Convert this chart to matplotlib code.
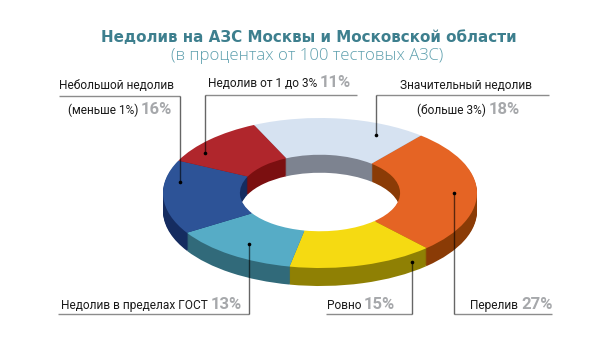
import matplotlib
matplotlib.use("Agg")
import matplotlib.pyplot as plt

W, H = 610, 351

# clockwise from the upper right
names = ["Перелив", "Ровно", "Недолив в пределах ГОСТ", "(меньше 1%)", "Недолив от 1 до 3%", "(больше 3%)"]
values = [27, 15, 13, 16, 11, 18]
top_colors = ["#e56424", "#f5da12", "#56acc6", "#2d5397", "#b0262c", "#d6e2f1"]
side_colors = ["#8a3b06", "#8f8004", "#316a7a", "#152c60", "#7b0f10", "#7d8390"]

# ring geometry in pixels
cx, cy, rx, ry, depth = 320, 193, 157, 75, 18
ring_width = 0.49

plt.rcParams['font.family'] = ['Roboto', 'DejaVu Sans']
fig = plt.figure(figsize=(W / 100, H / 100), dpi=100)

# donut axes: its shape gives the squashed look
pad = 4
left, right = cx - rx - pad, cx + rx + pad
top, bottom = cy - ry - pad, cy + ry + depth + pad
ax = fig.add_axes([left / W, 1 - bottom / H, (right - left) / W, (bottom - top) / H])
for d in range(depth, 0, -1):
    ax.pie(values, colors=side_colors, startangle=50, counterclock=False,
           center=(0, -d / ry), radius=1, wedgeprops=dict(width=ring_width, linewidth=0))
ax.pie(values, colors=top_colors, startangle=50, counterclock=False,
       center=(0, 0), radius=1, wedgeprops=dict(width=ring_width, linewidth=0))
ax.set_aspect('auto')
ax.set_xlim(-1 - pad / rx, 1 + pad / rx)
ax.set_ylim(-1 - (depth + pad) / ry, 1 + pad / ry)

# overlay in pixel coordinates for text and leader lines
ov = fig.add_axes([0, 0, 1, 1])
ov.set_xlim(0, W)
ov.set_ylim(H, 0)
ov.axis('off')

ov.text(308.5, 41.5, "Недолив на АЗС Москвы и Московской области", family='DejaVu Sans', weight='bold',
        fontsize=10.9, color='#3d7f8e', ha='center', va='baseline')
ov.text(307.5, 60, "(в процентах от 100 тестовых АЗС)", family='Open Sans', weight='light',
        fontsize=12.1, color='#5ea0ae', ha='center', va='baseline')


def leader(x0, x1, y, dot_x, dot_y):
    ov.plot([x0, x1], [y, y], color='#000000', alpha=0.45, lw=1, solid_capstyle='butt')
    ov.plot([dot_x, dot_x], [y, dot_y], color='#000000', alpha=0.6, lw=1, solid_capstyle='butt')
    ov.plot([dot_x], [dot_y], 'o', color='black', ms=2.6, mew=0)


def label(text, pct, x, y):
    ov.text(x, y, text, fontsize=8.6, color='#1a1a1a', ha='right', va='baseline')
    ov.text(x + 3, y, f"{pct}%", fontsize=12, weight='bold', color='#a6a8ab', ha='left', va='baseline')


leader(59, 180, 96, 180, 182)
leader(205, 357, 95, 205, 153)
leader(376, 549, 95, 376, 135)
leader(58, 249, 314, 249, 244)
leader(326, 412, 314, 412, 262)
leader(454, 552, 314, 454, 193)

ov.text(59, 89, "Небольшой недолив", fontsize=8.6, color='#1a1a1a', ha='left', va='baseline')
ov.text(400, 89, "Значительный недолив", fontsize=8.6, color='#1a1a1a', ha='left', va='baseline')
label(names[3], values[3], 138, 114)
label(names[4], values[4], 317, 87)
label(names[5], values[5], 486, 114)
label(names[2], values[2], 208, 309)
label(names[1], values[1], 361, 309)
label(names[0], values[0], 518, 309)

fig.savefig("out.png", dpi=100)
